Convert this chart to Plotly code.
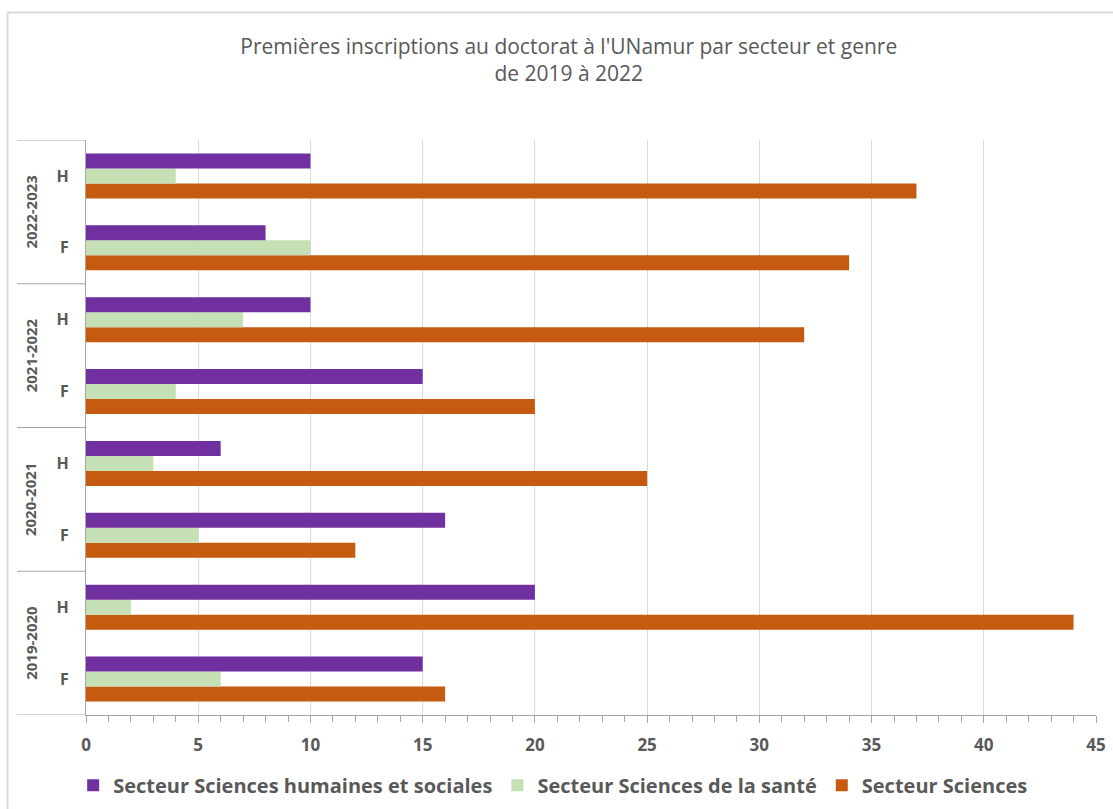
import plotly.graph_objects as go

years = ["2019-2020", "2020-2021", "2021-2022", "2022-2023"]
genders = ["F", "H"]
# order bottom -> top: (2019-2020,F), (2019-2020,H), ...
shs = [15, 20, 16, 6, 15, 10, 8, 10]
sante = [6, 2, 5, 3, 4, 7, 10, 4]
sciences = [16, 44, 12, 25, 20, 32, 34, 37]
series_names = ["Secteur Sciences humaines et sociales",
                "Secteur Sciences de la santé",
                "Secteur Sciences"]
colors = ["#7030A0", "#C5E0B4", "#C55A11"]

pos = list(range(len(years) * len(genders)))
tick_text = [g for y in years for g in genders]

fig = go.Figure()
# added bottom-first so that the first series sits on top of each group
for name, vals, col, rank in [(series_names[2], sciences, colors[2], 3),
                              (series_names[1], sante, colors[1], 2),
                              (series_names[0], shs, colors[0], 1)]:
    fig.add_trace(go.Bar(y=pos, x=vals, name="<b>" + name + "</b>", orientation="h",
                         marker=dict(color=col, line=dict(width=0)),
                         legendrank=rank))

gray = "#595959"
linec = "#A6A6A6"
shapes = []
annotations = []
# group separators in the category area
for b in [-0.5, 1.5, 3.5, 5.5, 7.5]:
    shapes.append(dict(type="line", xref="paper", yref="y",
                       x0=-0.0683, x1=0, y0=b, y1=b,
                       line=dict(color=linec, width=1)))
for i, yr in enumerate(years):
    annotations.append(dict(text="<b>" + yr + "</b>", xref="paper", yref="y",
                            x=-0.0548, y=2 * i + 0.5, showarrow=False,
                            textangle=-90, xanchor="center", yanchor="middle",
                            font=dict(size=15, color=gray, family="Open Sans")))
# outer chart frame
shapes.append(dict(type="rect", xref="paper", yref="paper",
                   x0=-0.0777, x1=1.2, y0=-0.5, y1=1.2217,
                   line=dict(color="#D9D9D9", width=2), layer="below"))

fig.update_layout(
    width=1113, height=809,
    margin=dict(l=86, r=17, t=140, b=94, autoexpand=False),
    paper_bgcolor="white", plot_bgcolor="white",
    barmode="group", bargap=0.375, bargroupgap=0,
    font=dict(family="Open Sans", color=gray),
    title=dict(text="Premières inscriptions au doctorat à l'UNamur par secteur et genre<br>de 2019 à 2022",
               x=0.511, xanchor="center", xref="container",
               y=1 - 54 / 809, yanchor="middle",
               font=dict(size=21, color=gray, family="Open Sans")),
    xaxis=dict(range=[0, 45], dtick=5, showgrid=True, gridcolor="#D9D9D9",
               gridwidth=1, zeroline=False, showline=True, linecolor=linec,
               ticks="outside", ticklen=7, tickcolor=linec,
               minor=dict(dtick=1, ticks="outside", ticklen=6, tickcolor=linec,
                          showgrid=False),
               tickfont=dict(size=17, color=gray, family="Open Sans"),
               ticklabelstandoff=8,
               tickprefix="<b>", ticksuffix="</b>", fixedrange=True,
               automargin=False),
    yaxis=dict(range=[-0.5, 7.5], tickvals=pos,
               ticktext=["<b>" + t + "</b>" for t in tick_text],
               showgrid=False, zeroline=False, showline=True, linecolor=linec,
               ticks="", ticklabelstandoff=13, automargin=False,
               tickfont=dict(size=16, color=gray, family="Open Sans")),
    legend=dict(orientation="h", x=0.497, xanchor="center", xref="container",
                y=-0.122, yanchor="middle",
                font=dict(size=20, color=gray, family="Open Sans")),
    shapes=shapes, annotations=annotations,
)

fig.write_html("out.html")
